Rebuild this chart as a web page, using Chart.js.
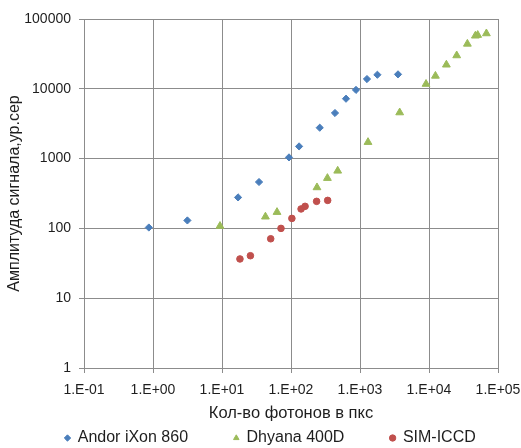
<!DOCTYPE html>
<html>
<head>
<meta charset="utf-8">
<script src="https://cdn.jsdelivr.net/npm/chart.js@4/dist/chart.umd.min.js"></script>
<style>
  html, body { margin: 0; padding: 0; background: #ffffff; }
  canvas { display: block; }
</style>
</head>
<body>
<canvas id="chart" width="521" height="448"></canvas>
<script>
// Photon count per pixel (x) and signal amplitude in ADU (y) for each camera
const andorPhotons = [0.87, 3.15, 17.1, 34.4, 93.5, 131, 261, 434, 627, 875, 1262, 1786, 3556];
const andorSignal  = [103, 130, 278, 462, 1040, 1495, 2770, 4500, 7210, 9650, 13800, 15900, 16100];

const dhyanaPhotons = [9.35, 42.6, 62.7, 238, 337, 475, 1306, 3760, 9060, 12390, 17860, 25200, 36000, 47000, 50800, 67900];
const dhyanaSignal  = [108, 147, 171, 386, 525, 668, 1720, 4570, 11700, 15300, 22100, 30000, 44000, 57500, 58800, 62000];

const simPhotons = [18.2, 25.8, 50.8, 71.6, 103, 140, 160, 235, 340];
const simSignal  = [36.5, 40.6, 71, 100, 139, 190, 207, 244, 252];

const seriesNames = ['Andor iXon 860', 'Dhyana 400D', 'SIM-ICCD'];

const xTickValues = [0.1, 1, 10, 100, 1000, 10000, 100000];
const xTickLabels = ['1.E-01', '1.E+00', '1.E+01', '1.E+02', '1.E+03', '1.E+04', '1.E+05'];
const yTickValues = [1, 10, 100, 1000, 10000, 100000];
const yTickLabels = ['1', '10', '100', '1000', '10000', '100000'];

const xTitle = 'Кол-во фотонов в пкс';
const yTitle = 'Амплитуда сигнала,ур.сер';

function toPoints(xs, ys) {
  return xs.map((x, i) => ({ x: x, y: ys[i] }));
}

const FONT = "'Liberation Sans', Arial, sans-serif";
const GRID = '#8c8c8c';
const TEXT = '#1e1e1e';
const BLUE = '#4a7ebb';
const GREEN = '#9bbb59';
const RED = '#c0504d';

Chart.defaults.font.family = FONT;
Chart.defaults.color = TEXT;

new Chart(document.getElementById('chart'), {
  type: 'scatter',
  data: {
    datasets: [
      {
        label: seriesNames[0],
        data: toPoints(andorPhotons, andorSignal),
        pointStyle: 'rectRot',
        pointRadius: 3.6,
        backgroundColor: BLUE,
        borderColor: BLUE,
        borderWidth: 1
      },
      {
        label: seriesNames[1],
        data: toPoints(dhyanaPhotons, dhyanaSignal),
        pointStyle: 'triangle',
        pointRadius: 4.5,
        backgroundColor: GREEN,
        borderColor: GREEN,
        borderWidth: 1
      },
      {
        label: seriesNames[2],
        data: toPoints(simPhotons, simSignal),
        pointStyle: 'circle',
        pointRadius: 3.3,
        backgroundColor: RED,
        borderColor: RED,
        borderWidth: 1
      }
    ]
  },
  options: {
    responsive: false,
    animation: false,
    devicePixelRatio: 1,
    // the negative right padding only widens the full-width legend row;
    // the plot edge is held by the x axis padding below
    layout: { padding: { top: 19, left: 0, right: -20, bottom: 0 } },
    plugins: {
      legend: {
        position: 'bottom',
        align: 'center',
        maxHeight: 25.1,
        // empty title with negative padding lifts the legend row up
        title: {
          display: true,
          text: '',
          font: { size: 12, lineHeight: 1 },
          padding: { top: 0, bottom: -50.9 }
        },
        labels: {
          usePointStyle: true,
          boxWidth: 4.5,
          boxHeight: 4.5,
          padding: 46,
          color: TEXT,
          font: { size: 16 }
        }
      },
      tooltip: { enabled: false }
    },
    scales: {
      x: {
        type: 'logarithmic',
        min: 0.1,
        max: 100000,
        afterBuildTicks: (scale) => { scale.ticks = xTickValues.map(v => ({ value: v })); },
        afterFit: (scale) => { scale.height = 54.9; scale.paddingRight = 23; },
        ticks: {
          callback: (value, index) => xTickLabels[index],
          autoSkip: false,
          maxRotation: 0,
          padding: 9,
          color: TEXT,
          font: { size: 14 }
        },
        grid: { color: GRID, lineWidth: 1, tickLength: 5 },
        border: { color: GRID, width: 1 },
        title: {
          display: true,
          text: xTitle,
          color: TEXT,
          font: { size: 16.5 },
          padding: { top: 0, bottom: 0 }
        }
      },
      y: {
        type: 'logarithmic',
        min: 1,
        max: 100000,
        afterBuildTicks: (scale) => { scale.ticks = yTickValues.map(v => ({ value: v })); },
        afterFit: (scale) => { scale.width = 84; },
        ticks: {
          callback: (value, index) => yTickLabels[index],
          padding: 8,
          color: TEXT,
          font: { size: 14 }
        },
        grid: { color: GRID, lineWidth: 1, tickLength: 5 },
        border: { color: GRID, width: 1 },
        title: {
          display: true,
          text: yTitle,
          color: TEXT,
          font: { size: 16 },
          padding: { top: 5.4, bottom: 0 }
        }
      }
    }
  }
});
</script>
</body>
</html>
